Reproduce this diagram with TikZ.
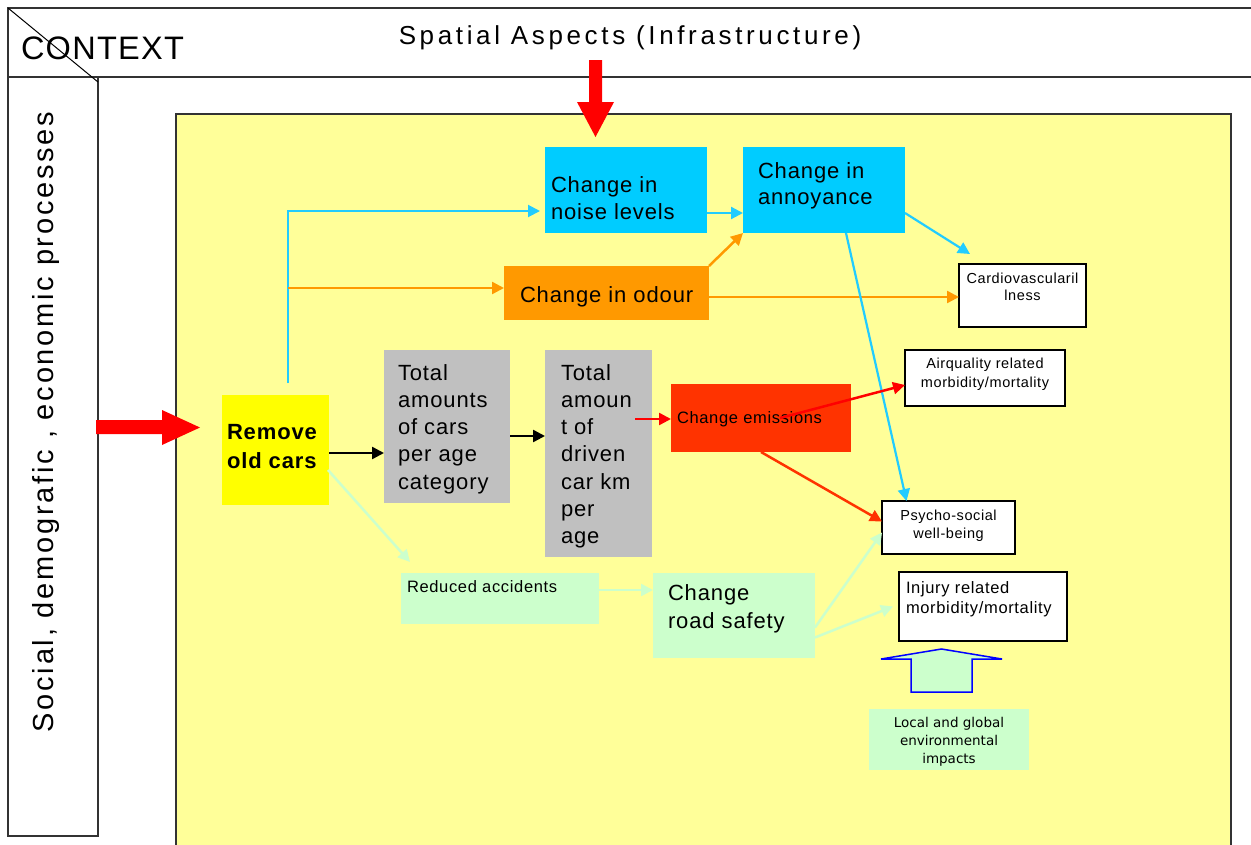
\documentclass[tikz,border=0pt]{standalone}
\usepackage{fontspec}
\setmainfont{Liberation Sans}[LetterSpace=4]
\newfontfamily\headfont{Liberation Sans}[LetterSpace=14]
\newfontfamily\sidefont{Liberation Sans}[LetterSpace=9.5]
\newfontfamily\tahomalike{DejaVu Sans}
\usetikzlibrary{arrows.meta}

\definecolor{bgyellow}{HTML}{FFFF99}
\definecolor{boxcyan}{HTML}{00CCFF}
\definecolor{linecyan}{HTML}{22CCFF}
\definecolor{boxorange}{HTML}{FF9900}
\definecolor{boxred}{HTML}{FF3300}
\definecolor{boxgray}{HTML}{C0C0C0}
\definecolor{boxgreen}{HTML}{CCFFCC}
\definecolor{boxyellow}{HTML}{FFFF00}
\definecolor{framegray}{HTML}{333333}

\begin{document}
\begin{tikzpicture}[x=1pt,y=-1pt,
  box/.style={inner sep=0pt, outer sep=0pt, anchor=north west},
  outlined/.style={box, fill=white, draw=black, line width=1.2pt},
  % multi-line texts are placed by the baseline of their last line
  txt/.style={inner sep=0pt, outer sep=0pt, anchor=base west, align=left},
  ctxt/.style={inner sep=0pt, outer sep=0pt, anchor=base, align=center},
  tip/.style={-{Triangle[length=12pt,width=12pt]}},
  cyconn/.style={tip, draw=linecyan, line width=2.2pt},
  orconn/.style={tip, draw=boxorange, line width=2.5pt},
  bkconn/.style={tip, draw=black, line width=2.5pt},
  rdconn/.style={tip, draw=red, line width=2.5pt},
  emconn/.style={tip, draw=boxred, line width=2.5pt},
  grconn/.style={tip, draw=boxgreen, line width=2.5pt},
  big/.style={font=\fontsize{22}{27.3}\selectfont},
  mid/.style={font=\fontsize{16.5}{20}\selectfont},
  small/.style={font=\fontsize{14.5}{18}\selectfont}
]
\useasboundingbox (0,0) rectangle (1251,844);

% context frame
\draw[line width=1.2pt, draw=framegray]
  (1251,8) -- (8,8) -- (8,836) -- (98,836) -- (98,77) -- (1251,77);
\draw[line width=1.2pt, draw=framegray] (8,77) -- (98,77);
\draw[line width=1pt] (8,8) -- (98,82);
\node[txt, font=\fontsize{32.5}{36}\selectfont] (ctx) at (21,59) {CONTEXT};
\node[ctxt, font=\headfont\fontsize{26}{30}\selectfont] (spatial) at (630,44)
  {Spatial Aspects (Infrastructure)};
\node[ctxt, rotate=90, font=\sidefont\fontsize{29}{32}\selectfont] (social) at (53,422)
  {Social, demografic , economic processes};

% main area
\fill[bgyellow] (176,114) rectangle (1231,850);
\draw[line width=1.2pt, draw=framegray] (176,850) -- (176,114) -- (1231,114) -- (1231,850);

% red input arrows
\fill[red] (589,60) -- (602,60) -- (602,102) -- (614,102) -- (595.5,137)
  -- (577,102) -- (589,102) -- cycle;
\fill[red] (96,420) -- (162,420) -- (162,410) -- (200,427.5) -- (162,445)
  -- (162,434) -- (96,434) -- cycle;

% boxes
\node[box, fill=boxcyan, minimum width=162pt, minimum height=86pt] (noise) at (545,147) {};
\node[box, fill=boxcyan, minimum width=162pt, minimum height=86pt] (annoy) at (743,147) {};
\node[box, fill=boxorange, minimum width=205pt, minimum height=54pt] (odour) at (504,266) {};
\node[outlined, minimum width=127pt, minimum height=63pt] (cardio) at (959,264) {};
\node[outlined, minimum width=160pt, minimum height=56pt] (airq) at (905,350) {};
\node[box, fill=boxyellow, minimum width=107pt, minimum height=110pt] (remove) at (222,395) {};
\node[box, fill=boxgray, minimum width=126pt, minimum height=153pt] (totcars) at (384,350) {};
\node[box, fill=boxgray, minimum width=107pt, minimum height=207pt] (totkm) at (545,350) {};
\node[box, fill=boxred, minimum width=180pt, minimum height=68pt] (emis) at (671,384) {};
\node[outlined, minimum width=133pt, minimum height=53pt] (psycho) at (882,501) {};
\node[outlined, minimum width=168pt, minimum height=69pt] (injury) at (899,572) {};
\node[box, fill=boxgreen, minimum width=198pt, minimum height=51pt] (reduced) at (401,573) {};
\node[box, fill=boxgreen, minimum width=162pt, minimum height=85pt] (road) at (653,573) {};
\node[box, fill=boxgreen, minimum width=160pt, minimum height=61pt] (local) at (869,709) {};

% box texts
\node[txt, big] (noiseT) at (551,219.3) {Change in\\noise levels};
\node[txt, font=\fontsize{22}{26}\selectfont] (annoyT) at (758,204) {Change in\\annoyance};
\node[txt, big] (odourT) at (520,302) {Change in odour};
\node[ctxt, font=\fontsize{14.5}{17}\selectfont] (cardioT) at (1022.5,300) {Cardiovascularil\\lness};
\node[ctxt, font=\fontsize{14.5}{19}\selectfont] (airqT) at (985,387) {Airquality related\\morbidity/mortality};
\node[txt, font=\bfseries\fontsize{22}{29}\selectfont] (removeT) at (227,468) {Remove\\old cars};
\node[txt, big] (totcarsT) at (398,489.2) {Total\\amounts\\of cars\\per age\\category};
\node[txt, big] (totkmT) at (561,543.8) {Total\\amoun\\t of\\driven\\car km\\per\\age};
\node[txt, mid] (emisT) at (677,423) {Change emissions};
\node[ctxt, small] (psychoT) at (948.5,538) {Psycho-social\\well-being};
\node[txt, mid] (injuryT) at (906,613) {Injury related\\morbidity/mortality};
\node[txt, mid] (reducedT) at (407,592) {Reduced accidents};
\node[txt, font=\fontsize{22}{28}\selectfont] (roadT) at (668,628) {Change\\road safety};
\node[ctxt, font=\tahomalike\fontsize{13.5}{18}\selectfont] (localT) at (949,763)
  {Local and global\\environmental\\impacts};

% free ends of connectors
\coordinate (split) at (288,383);
\coordinate (kmout) at (635,419);
\coordinate (emisout) at (780,418);
\coordinate (removeout) at (328,470);

% connectors
\draw[cyconn, line width=2pt] (split) |- (540,211);
\draw[orconn] (split |- 0,288) -- (odour.west |- 0,288);
\draw[cyconn] (noise.east |- 0,213) -- (annoy.west |- 0,213);
\draw[orconn] (odour.north east) -- (annoy.south west);
\draw[cyconn] (annoy.east |- 0,213) -- ([shift={(11pt,10pt)}]cardio.north west);
\draw[orconn] (odour.east |- 0,297) -- (cardio.west |- 0,297);
\draw[cyconn] ([xshift=22pt]annoy.south) -- ([xshift=-42pt]psycho.north);
\draw[bkconn] (remove.east |- 0,453) -- (totcars.west |- 0,453);
\draw[bkconn] (totcars.east |- 0,436) -- (totkm.west |- 0,436);
\draw[rdconn] (kmout) -- (emis.west |- kmout);
\draw[rdconn] (emisout) -- ([yshift=-7pt]airq.west);
\draw[emconn] (emis.south) -- ([yshift=6pt]psycho.west);
\draw[grconn] (removeout) -- ([shift={(9pt,11pt)}]reduced.north west);
\draw[grconn] (reduced.east |- 0,590) -- (road.west |- 0,590);
\draw[grconn] ([yshift=-12pt]road.east) -- ([yshift=-5pt]psycho.west);
\draw[grconn] ([yshift=-22pt]road.east) -- ([xshift=-6pt]injury.west);

% block arrow from environmental impacts
\draw[draw=blue, fill=boxgreen, line width=1.5pt]
  (911,692) -- (911,659) -- (881,659) -- (941.5,649) -- (1002,659)
  -- (972,659) -- (972,692) -- cycle;
\end{tikzpicture}
\end{document}
